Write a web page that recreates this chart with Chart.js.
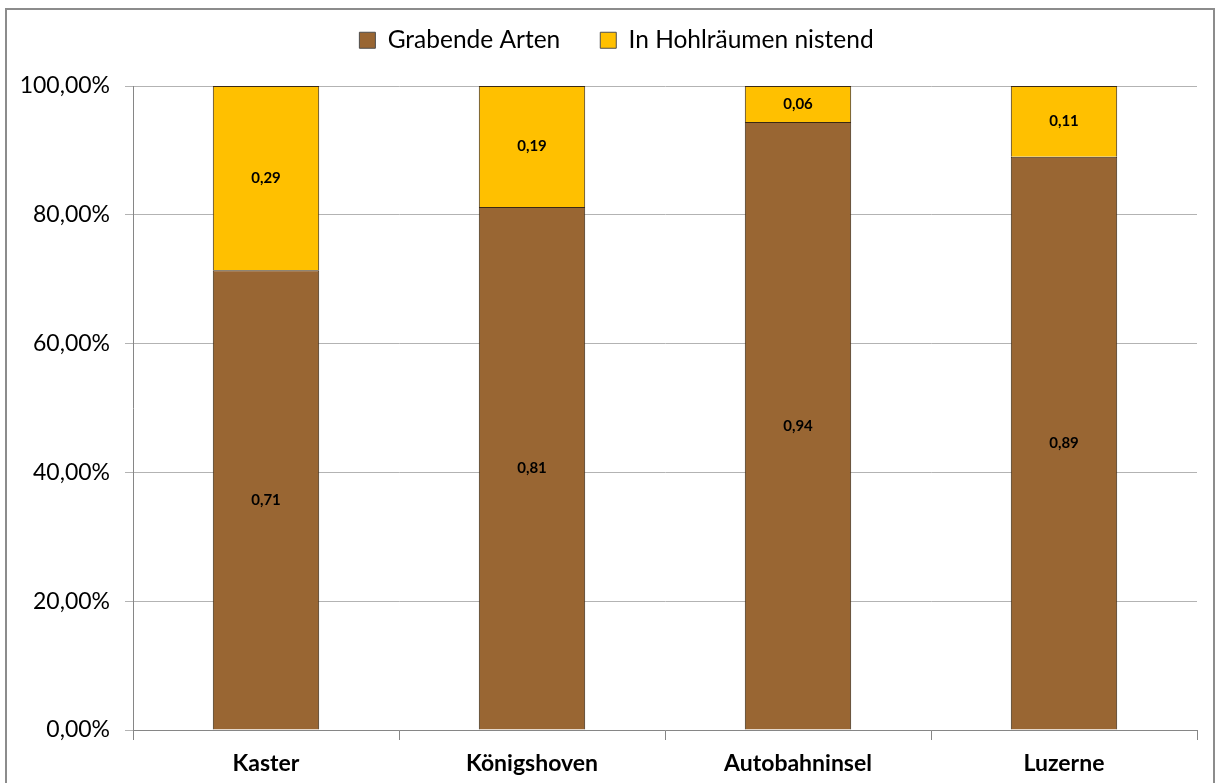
<!DOCTYPE html>
<html>
<head>
<meta charset="utf-8">
<script src="https://cdn.jsdelivr.net/npm/chart.js@4/dist/chart.umd.min.js"></script>
<style>
  html, body { margin: 0; padding: 0; background: #fff; }
  #wrap { position: relative; width: 1216px; height: 783px; }
</style>
</head>
<body>
<div id="wrap"><canvas id="chart" width="1216" height="783"></canvas></div>
<script>
const categories = ["Kaster", "Königshoven", "Autobahninsel", "Luzerne"];
const grabendeArten = [0.714, 0.812, 0.944, 0.89];
const hohlraeume = [0.286, 0.188, 0.056, 0.11];
const seriesNames = ["Grabende Arten", "In Hohlräumen nistend"];

const fontFamily = "Lato, 'Open Sans', sans-serif";

function formatComma(value, digits) {
  return value.toFixed(digits).replace(".", ",");
}

// value labels centred in each bar segment
const barLabels = {
  id: "barLabels",
  afterDatasetsDraw(chart) {
    const ctx = chart.ctx;
    ctx.save();
    ctx.font = `bold 15px ${fontFamily}`;
    ctx.fillStyle = "#000";
    ctx.textAlign = "center";
    ctx.textBaseline = "middle";
    chart.data.datasets.forEach((ds, i) => {
      chart.getDatasetMeta(i).data.forEach((bar, j) => {
        const { x, y, base } = bar.getProps(["x", "y", "base"], true);
        ctx.fillText(formatComma(ds.data[j], 2), x, (y + base) / 2);
      });
    });
    ctx.restore();
  },
};

// leave room under the legend and nudge it to the page centre
const legendSpace = {
  id: "legendSpace",
  afterInit(chart) {
    const legend = chart.legend;
    const fit = legend.fit;
    legend.fit = function () {
      fit.call(this);
      this.height = 98;
      if (this.lineWidths && this.lineWidths.length) this.lineWidths[0] -= 36;
    };
  },
};

// outer frame of the chart object
const frame = {
  id: "frame",
  afterDraw(chart) {
    const ctx = chart.ctx;
    ctx.save();
    ctx.strokeStyle = "#8c8c8c";
    ctx.lineWidth = 2;
    ctx.strokeRect(6, 9, 1208, 800);
    ctx.restore();
  },
};

new Chart(document.querySelector("#chart"), {
  type: "bar",
  data: {
    labels: categories,
    datasets: [
      {
        label: seriesNames[0],
        data: grabendeArten,
        backgroundColor: "#996633",
        borderColor: "#3a2914",
        borderWidth: 1,
      },
      {
        label: seriesNames[1],
        data: hohlraeume,
        backgroundColor: "#ffc000",
        borderColor: "#3a2914",
        borderWidth: 1,
      },
    ],
  },
  options: {
    responsive: false,
    animation: false,
    layout: { padding: { top: -12, right: 19, bottom: 0, left: 0 } },
    datasets: { bar: { categoryPercentage: 1, barPercentage: 0.4 } },
    plugins: {
      tooltip: { enabled: false },
      legend: {
        position: "top",
        labels: {
          font: { family: fontFamily, size: 24.5 },
          color: "#000",
          boxWidth: 16,
          boxHeight: 16,
          padding: 40,
          generateLabels(chart) {
            return chart.data.datasets.map((ds, i) => ({
              text: ds.label,
              fillStyle: ds.backgroundColor,
              strokeStyle: "#4d4d4d",
              lineWidth: 1,
              datasetIndex: i,
            }));
          },
        },
      },
    },
    scales: {
      x: {
        stacked: true,
        afterFit(scale) { scale.height = 53; },
        grid: {
          offset: true,
          drawOnChartArea: false,
          drawTicks: true,
          tickLength: 10,
          color: "#868686",
        },
        border: { color: "#868686", width: 1 },
        ticks: {
          font: { family: fontFamily, size: 23, weight: "bold" },
          color: "#000",
          padding: 10,
        },
      },
      y: {
        stacked: true,
        min: 0,
        max: 1,
        afterFit(scale) { scale.width = 133; },
        grid: {
          color: "#b3b3b3",
          tickLength: 8,
        },
        border: { color: "#868686", width: 1 },
        ticks: {
          stepSize: 0.2,
          font: { family: fontFamily, size: 23 },
          color: "#000",
          padding: 15,
          callback: (v) => formatComma(v * 100, 2) + "%",
        },
      },
    },
  },
  plugins: [barLabels, legendSpace, frame],
});
</script>
</body>
</html>
